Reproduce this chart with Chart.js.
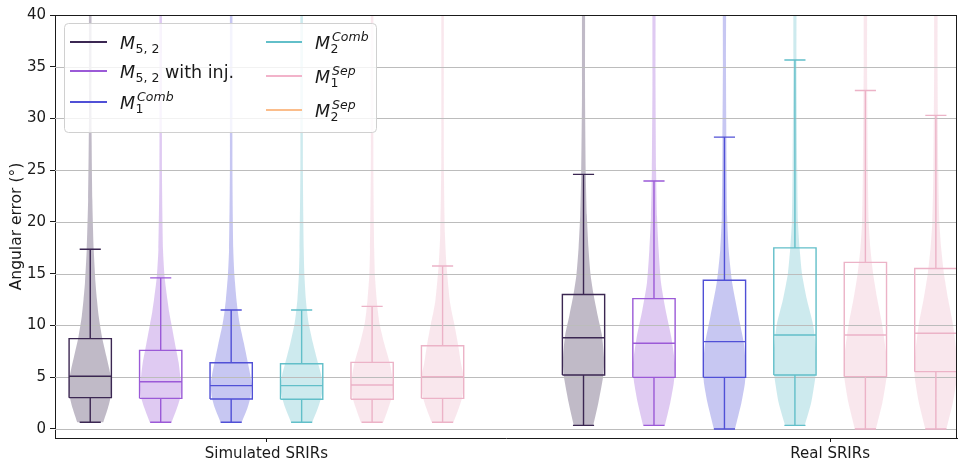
<!DOCTYPE html>
<html><head><meta charset="utf-8">
<script src="https://cdn.jsdelivr.net/npm/chart.js@4.4.1/dist/chart.umd.min.js"></script>
<style>html,body{margin:0;padding:0;background:#fff;}canvas{display:block;}</style>
</head><body>
<canvas id="c" width="958" height="462"></canvas>
<script>
// ---------- data ----------
const categories = ['Simulated SRIRs', 'Real SRIRs'];
const categoryTickPositions = [2.5, 10.5];
const yTicks = [0, 5, 10, 15, 20, 25, 30, 35, 40];
const simPositions = [0, 1, 2, 3, 4, 5];
const realPositions = [7, 8, 9, 10, 11, 12];

const legendLabels = [
  {base: 'M', sub: '5, 2', sup: '', after: ''},
  {base: 'M', sub: '5, 2', sup: '', after: ' with inj.'},
  {base: 'M', sub: '1', sup: 'Comb', after: ''},
  {base: 'M', sub: '2', sup: 'Comb', after: ''},
  {base: 'M', sub: '1', sup: 'Sep', after: ''},
  {base: 'M', sub: '2', sup: 'Sep', after: ''}
];
const seriesColors = ['#3b2752', '#9b5ad7', '#5050d6', '#62bfc9', '#ecb3c7', '#ecb3c7'];
const legendColors = ['#3b2752', '#9b5ad7', '#5050d6', '#62bfc9', '#f2b3ca', '#fbbd8b'];

// box statistics  [series] -> value
const simLow    = [0.65, 0.65, 0.65, 0.65, 0.65, 0.65];
const simQ1     = [3.03, 2.96, 2.90, 2.87, 2.87, 2.96];
const simMedian = [5.09, 4.57, 4.19, 4.19, 4.25, 5.05];
const simQ3     = [8.73, 7.60, 6.40, 6.30, 6.44, 8.05];
const simHigh   = [17.36, 14.6, 11.5, 11.5, 11.85, 15.75];

const realLow    = [0.35, 0.35, 0.0, 0.35, 0.0, 0.0];
const realQ1     = [5.22, 4.99, 4.99, 5.22, 5.06, 5.54];
const realMedian = [8.82, 8.28, 8.44, 9.08, 9.08, 9.25];
const realQ3     = [13.0, 12.6, 14.37, 17.5, 16.1, 15.5];
const realHigh   = [24.6, 23.96, 28.2, 35.65, 32.7, 30.3];

// violin outlines: levels (y) and half widths (x units)
const simViolinLevels = [
  [0.65, 2.0, 3.1, 4.0, 4.7, 5.8, 7.0, 8.8, 10.9, 12.5, 14.1, 17.3, 22.1, 30, 45],
  [0.65, 2.0, 3.1, 3.7, 4.3, 5.3, 6.4, 7.65, 10.2, 11.3, 12.5, 14.6, 17.3, 25, 45],
  [0.65, 2.0, 3.1, 3.7, 4.3, 5.3, 6.3, 8.3, 10.2, 11.3, 12.5, 14.8, 17.3, 25, 45],
  [0.65, 2.0, 3.1, 3.7, 4.3, 5.3, 6.3, 8.3, 10.2, 11.3, 12.5, 14.8, 17.3, 25, 45],
  [0.65, 2.0, 3.1, 3.7, 4.3, 5.3, 6.4, 8.3, 10.2, 11.3, 12.5, 14.8, 17.3, 25, 45],
  [0.65, 2.0, 3.1, 3.8, 4.4, 5.4, 6.4, 7.95, 10.2, 11.3, 12.5, 15.7, 18.9, 26, 45]
];
const simViolinHalfWidths = [
  [0.185, 0.25, 0.29, 0.30, 0.30, 0.27, 0.23, 0.17, 0.12, 0.095, 0.075, 0.05, 0.03, 0.018, 0.015],
  [0.155, 0.23, 0.28, 0.29, 0.29, 0.275, 0.255, 0.22, 0.15, 0.12, 0.095, 0.057, 0.033, 0.018, 0.015],
  [0.15, 0.23, 0.275, 0.285, 0.29, 0.27, 0.24, 0.18, 0.12, 0.095, 0.075, 0.047, 0.03, 0.018, 0.015],
  [0.15, 0.23, 0.28, 0.295, 0.30, 0.275, 0.235, 0.16, 0.10, 0.078, 0.06, 0.04, 0.03, 0.018, 0.015],
  [0.16, 0.23, 0.28, 0.295, 0.30, 0.28, 0.25, 0.17, 0.105, 0.083, 0.065, 0.04, 0.03, 0.018, 0.015],
  [0.155, 0.23, 0.28, 0.295, 0.30, 0.29, 0.26, 0.225, 0.165, 0.13, 0.10, 0.057, 0.033, 0.018, 0.015]
];
const realViolinLevels = [
  [0.39, 2.5, 4.9, 6.0, 7.0, 9.1, 11, 13.1, 14.9, 17.5, 20.7, 24.5, 32, 45],
  [0.35, 2.5, 4.4, 5.4, 6.3, 8.9, 11.5, 14.1, 17.3, 20.5, 25, 33, 45],
  [0, 2.5, 4.4, 5.4, 6.3, 8.3, 10.85, 14.1, 17.3, 20.5, 28, 35, 45],
  [0.35, 2.5, 5, 6.2, 7.5, 10, 12.5, 15, 17.5, 20, 25, 35, 45],
  [0, 2.5, 5, 6.2, 7.5, 10, 12.5, 15, 17.5, 20, 25, 35, 45],
  [0, 2.5, 5, 6.2, 7.5, 10, 12.5, 15, 17.5, 20, 25, 35, 45]
];
const realViolinHalfWidths = [
  [0.14, 0.21, 0.275, 0.29, 0.29, 0.26, 0.2, 0.14, 0.1, 0.07, 0.047, 0.033, 0.022, 0.018],
  [0.155, 0.23, 0.28, 0.295, 0.30, 0.245, 0.165, 0.10, 0.066, 0.043, 0.03, 0.022, 0.018],
  [0.15, 0.24, 0.29, 0.30, 0.30, 0.275, 0.2, 0.11, 0.06, 0.038, 0.028, 0.022, 0.02],
  [0.14, 0.23, 0.29, 0.30, 0.30, 0.26, 0.17, 0.1, 0.066, 0.043, 0.033, 0.022, 0.018],
  [0.15, 0.24, 0.30, 0.30, 0.29, 0.24, 0.17, 0.11, 0.07, 0.047, 0.035, 0.024, 0.02],
  [0.15, 0.24, 0.30, 0.30, 0.29, 0.245, 0.175, 0.115, 0.075, 0.05, 0.035, 0.024, 0.02]
];

// ---------- styling ----------
const BOX_HALF = 0.3, CAP_HALF = 0.15;
const FONT = '"DejaVu Sans", sans-serif';
const TEXT = '#1a1a1a';

function rgba(hex, a) {
  const n = parseInt(hex.slice(1), 16);
  return `rgba(${(n >> 16) & 255},${(n >> 8) & 255},${n & 255},${a})`;
}

function violinDataset(pos, ys, ws, color) {
  const left = ys.map((y, i) => ({x: pos - ws[i], y: y}));
  const right = ys.map((y, i) => ({x: pos + ws[i], y: y})).reverse();
  return {
    kind: 'violin', data: left.concat(right), showLine: true, fill: 'shape',
    backgroundColor: rgba(color, 0.32), borderColor: 'rgba(0,0,0,0)', borderWidth: 0,
    pointRadius: 0, tension: 0.2, capBezierPoints: false, order: 2
  };
}

function boxPoints(pos, lo, q1, med, q3, hi) {
  const g = {x: pos, y: null};
  return [
    {x: pos - BOX_HALF, y: q1}, {x: pos + BOX_HALF, y: q1}, {x: pos + BOX_HALF, y: q3},
    {x: pos - BOX_HALF, y: q3}, {x: pos - BOX_HALF, y: q1}, g,
    {x: pos - BOX_HALF, y: med}, {x: pos + BOX_HALF, y: med}, g,
    {x: pos, y: lo}, {x: pos, y: q1}, g,
    {x: pos, y: q3}, {x: pos, y: hi}, g,
    {x: pos - CAP_HALF, y: lo}, {x: pos + CAP_HALF, y: lo}, g,
    {x: pos - CAP_HALF, y: hi}, {x: pos + CAP_HALF, y: hi}, g
  ];
}

const datasets = [];
for (let s = 0; s < 6; s++) {
  datasets.push({
    kind: 'box',
    data: boxPoints(simPositions[s], simLow[s], simQ1[s], simMedian[s], simQ3[s], simHigh[s])
      .concat(boxPoints(realPositions[s], realLow[s], realQ1[s], realMedian[s], realQ3[s], realHigh[s])),
    showLine: true, spanGaps: false, fill: false, borderColor: seriesColors[s], borderWidth: 1.4,
    pointRadius: 0, tension: 0, order: 1
  });
}
for (let s = 0; s < 6; s++) {
  datasets.push(violinDataset(simPositions[s], simViolinLevels[s], simViolinHalfWidths[s], seriesColors[s]));
  datasets.push(violinDataset(realPositions[s], realViolinLevels[s], realViolinHalfWidths[s], seriesColors[s]));
}

// grid between violin fills and box lines (like matplotlib)
const gridPlugin = {
  id: 'gridUnderBoxes',
  beforeDatasetsDraw(chart) { chart.$gridDone = false; },
  beforeDatasetDraw(chart, args) {
    const ds = chart.data.datasets[args.index];
    if (ds.kind === 'box' && !chart.$gridDone) {
      chart.$gridDone = true;
      const {ctx, chartArea: a} = chart;
      const ys = chart.scales.y;
      ctx.save();
      ctx.strokeStyle = '#bcbcbc';
      ctx.lineWidth = 1;
      yTicks.forEach(v => {
        const p = Math.round(ys.getPixelForValue(v)) + 0.5;
        ctx.beginPath(); ctx.moveTo(a.left, p); ctx.lineTo(a.right, p); ctx.stroke();
      });
      ctx.restore();
    }
  }
};

function drawMath(ctx, x, base, item, F, S) {
  ctx.fillStyle = TEXT;
  ctx.textBaseline = 'alphabetic';
  ctx.textAlign = 'left';
  ctx.font = `italic ${F}px ${FONT}`;
  ctx.fillText(item.base, x, base);
  let sx = x + ctx.measureText(item.base).width + 0.5;
  let w = 0;
  if (item.sup) {
    ctx.font = `italic ${S}px ${FONT}`;
    ctx.fillText(item.sup, sx + 1.5, base - 8);
    w = Math.max(w, ctx.measureText(item.sup).width + 1.5);
  }
  if (item.sub) {
    ctx.font = `${S}px ${FONT}`;
    ctx.fillText(item.sub, sx, base + 4);
    w = Math.max(w, ctx.measureText(item.sub).width);
  }
  sx += w;
  if (item.after) {
    ctx.font = `${F}px ${FONT}`;
    ctx.fillText(item.after, sx, base);
  }
}

const framePlugin = {
  id: 'frameLegend',
  afterDraw(chart) {
    const {ctx, chartArea: a} = chart;
    ctx.save();
    ctx.strokeStyle = '#1a1a1a';
    ctx.lineWidth = 1;
    ctx.beginPath();
    ctx.moveTo(a.left, Math.round(a.top) + 0.5); ctx.lineTo(a.right, Math.round(a.top) + 0.5);
    ctx.moveTo(Math.round(a.right) - 0.5, a.top); ctx.lineTo(Math.round(a.right) - 0.5, a.bottom);
    ctx.stroke();

    // legend
    const lx = 64.5, ly = 23.5, lw = 312, lh = 109, r = 4;
    ctx.beginPath();
    ctx.moveTo(lx + r, ly); ctx.lineTo(lx + lw - r, ly); ctx.arcTo(lx + lw, ly, lx + lw, ly + r, r);
    ctx.lineTo(lx + lw, ly + lh - r); ctx.arcTo(lx + lw, ly + lh, lx + lw - r, ly + lh, r);
    ctx.lineTo(lx + r, ly + lh); ctx.arcTo(lx, ly + lh, lx, ly + lh - r, r);
    ctx.lineTo(lx, ly + r); ctx.arcTo(lx, ly, lx + r, ly, r);
    ctx.closePath();
    ctx.fillStyle = 'rgba(255,255,255,0.8)';
    ctx.fill();
    ctx.strokeStyle = '#d0d0d0';
    ctx.stroke();

    const cols = [{lx0: 70, lx1: 107, tx: 120, rows: [42, 71, 102]},
                  {lx0: 266, lx1: 302, tx: 315, rows: [42, 76, 110]}];
    legendLabels.forEach((item, i) => {
      const c = cols[i < 3 ? 0 : 1];
      const y = c.rows[i % 3];
      ctx.strokeStyle = legendColors[i];
      ctx.lineWidth = 2;
      ctx.beginPath(); ctx.moveTo(c.lx0, y); ctx.lineTo(c.lx1, y); ctx.stroke();
      drawMath(ctx, c.tx, y + 6.5, item, 17.5, 12.5);
    });
    ctx.restore();
  }
};

new Chart(document.getElementById('c'), {
  type: 'scatter',
  data: {datasets},
  options: {
    responsive: false, animation: false, devicePixelRatio: 1,
    layout: {padding: {left: 0, right: 1, top: 15, bottom: 0}},
    plugins: {legend: {display: false}, tooltip: {enabled: false}},
    scales: {
      x: {
        type: 'linear', min: -0.5, max: 12.3,
        afterBuildTicks: s => { s.ticks = categoryTickPositions.map(v => ({value: v})); },
        afterFit: s => { s.height = 24; },
        ticks: {callback: (v, i) => categories[i], font: {family: FONT, size: 15}, color: TEXT,
                padding: 3, maxRotation: 0, autoSkip: false},
        grid: {drawOnChartArea: false, tickLength: 4, color: '#1a1a1a'},
        border: {color: '#1a1a1a', width: 1}
      },
      y: {
        type: 'linear', min: -0.87, max: 40,
        afterBuildTicks: s => { s.ticks = yTicks.map(v => ({value: v})); },
        afterFit: s => { s.width = 55; },
        ticks: {font: {family: FONT, size: 15}, color: TEXT, padding: 4},
        grid: {drawOnChartArea: false, tickLength: 5, color: '#1a1a1a'},
        border: {color: '#1a1a1a', width: 1},
        title: {display: true, text: 'Angular error (°)', font: {family: FONT, size: 15.5},
                color: TEXT, padding: {top: 8, bottom: 0}}
      }
    }
  },
  plugins: [gridPlugin, framePlugin]
});
</script>
</body></html>
